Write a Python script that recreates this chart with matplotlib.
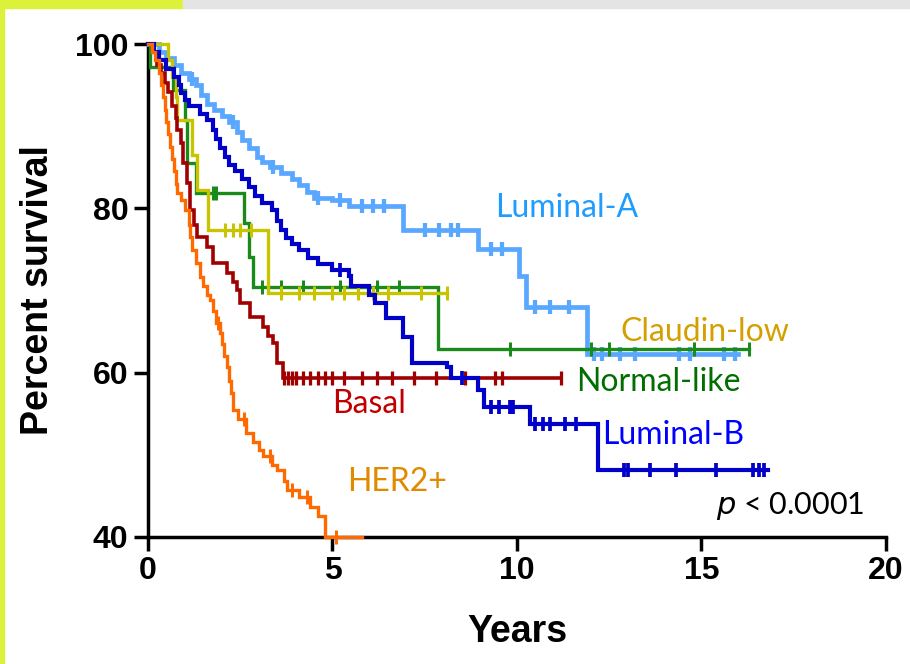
import numpy as np
import matplotlib
matplotlib.use("Agg")
import matplotlib.pyplot as plt
from matplotlib.patches import Rectangle

# Kaplan-Meier steps: (years, percent survival)
lum_a_t = [0, 0.3, 0.5, 0.7, 0.9, 1.1, 1.3, 1.45, 1.6, 1.8, 2.0, 2.2, 2.4, 2.55, 2.75,
           2.95, 3.1, 3.3, 3.6, 3.9, 4.1, 4.3, 4.5, 5.0, 5.45, 6.9, 8.95, 10.05, 10.25, 11.9, 16.0]
lum_a_s = [100, 99, 98.3, 97.5, 96.5, 95.8, 95.0, 93.8, 92.7, 92.0, 91.3, 90.5, 89.3, 88.3, 87.3,
           86.3, 85.6, 85.0, 84.3, 83.6, 82.8, 82.0, 81.3, 81.0, 80.3, 77.4, 75.0, 71.8, 68.0, 62.3, 62.3]
lum_a_c = [1.2, 2.3, 3.4, 4.6, 5.2, 5.8, 6.1, 6.4, 7.5, 7.9, 8.2, 8.4, 9.3, 9.6, 10.5, 10.9,
           11.4, 12.1, 12.3, 12.8, 13.2, 14.4, 14.7, 15.6, 15.9]

lum_b_t = [0, 0.15, 0.3, 0.5, 0.7, 0.85, 0.9, 1.0, 1.1, 1.4, 1.6, 1.75, 1.85, 1.95, 2.1, 2.2,
           2.35, 2.55, 2.75, 2.9, 3.1, 3.35, 3.5, 3.6, 3.75, 3.9, 4.1, 4.35, 4.6, 5.0, 5.45, 5.5,
           6.0, 6.15, 6.45, 6.9, 7.15, 8.1, 8.2, 8.95, 9.1, 10.35, 12.2, 16.8]
lum_b_s = [100, 99, 98, 97, 96, 95, 94, 93.2, 92.4, 91.5, 90.7, 89.5, 88.5, 87.3, 86.3, 85.3,
           84.5, 83.6, 82.6, 81.5, 80.7, 79.8, 78.5, 77.4, 76.4, 75.6, 74.9, 74.0, 73.2, 72.5, 71.8, 70.6,
           69.5, 68.5, 66.6, 64.4, 61.2, 60.7, 59.3, 57.9, 55.8, 53.7, 48.2, 48.2]
lum_b_c = [5.2, 8.5, 9.3, 9.5, 9.8, 9.9, 10.5, 10.7, 10.9, 11.3, 11.6, 12.9, 13.0, 13.6, 14.3,
           15.4, 16.4, 16.55, 16.7]

norm_t = [0, 0.05, 0.68, 1.0, 1.05, 1.3, 2.6, 2.75, 2.85, 7.85, 16.3]
norm_s = [100, 97.2, 94.4, 90.7, 85.5, 81.9, 78.2, 74.1, 70.4, 62.9, 62.9]
norm_c = [1.75, 1.85, 3.1, 3.6, 4.2, 5.2, 6.2, 6.8, 9.8, 12.0, 12.5, 14.8, 16.3]

claud_t = [0, 0.55, 0.65, 0.75, 0.8, 1.2, 1.32, 1.63, 3.25, 8.1]
claud_s = [100, 98, 96, 93.5, 90.7, 86.5, 82.2, 77.4, 69.7, 69.7]
claud_c = [2.1, 2.3, 2.5, 2.8, 3.6, 4.1, 4.5, 5.0, 5.3, 5.7, 6.1, 6.5, 7.4, 8.1]

basal_t = [0, 0.15, 0.25, 0.35, 0.45, 0.55, 0.65, 0.75, 0.8, 0.9, 0.95, 1.05, 1.14, 1.25,
           1.33, 1.6, 1.76, 2.14, 2.3, 2.41, 2.49, 2.76, 3.12, 3.25, 3.39, 3.5, 3.66, 11.2]
basal_s = [100, 99, 97.5, 96.5, 95.2, 94.2, 92.5, 91, 89.5, 88, 85.5, 83.1, 79.8, 78,
           76.5, 75.3, 73.4, 72.1, 71, 70.1, 68.5, 66.8, 65.6, 64.5, 63.6, 61.2, 59.4, 59.4]
basal_c = [3.7, 3.8, 3.9, 4.0, 4.2, 4.4, 4.6, 4.8, 5.0, 5.3, 5.8, 6.2, 6.6, 7.2, 7.8, 8.6,
           9.4, 9.6, 11.2]

her2_t = [0, 0.1, 0.2, 0.3, 0.35, 0.4, 0.45, 0.5, 0.55, 0.6, 0.65, 0.7, 0.75, 0.8, 0.9, 1.0,
          1.1, 1.15, 1.2, 1.3, 1.4, 1.5, 1.6, 1.68, 1.75, 1.85, 1.95, 2.0, 2.05, 2.14, 2.2, 2.25,
          2.3, 2.45, 2.65, 2.85, 3.0, 3.12, 3.35, 3.5, 3.7, 3.77, 4.1, 4.39, 4.6, 4.8, 5.8]
her2_s = [100, 99, 98, 96.5, 95, 93.5, 92, 90.5, 89, 87.5, 86, 84.5, 83, 81.9, 81, 79.8,
          78, 76.5, 74.9, 73.3, 71.7, 70.5, 69.5, 68.9, 67.5, 66, 64.8, 63.5, 62, 60.7, 59, 57.5,
          55.5, 54.3, 52.7, 51.5, 50.6, 49.8, 48.8, 48.2, 46.8, 45.7, 44.9, 43.7, 42.5, 40.0, 40.0]
her2_c = [1.9, 2.6, 3.3, 3.9, 4.3, 5.1]

curves = [
    (lum_a_t, lum_a_s, lum_a_c, "#5aa7ff", 3.4),
    (norm_t, norm_s, norm_c, "#1a8a1a", 2.4),
    (claud_t, claud_s, claud_c, "#c8c400", 2.4),
    (basal_t, basal_s, basal_c, "#a00000", 2.6),
    (lum_b_t, lum_b_s, lum_b_c, "#0000c8", 3.0),
    (her2_t, her2_s, her2_c, "#ff6a00", 2.4),
]

labels = ["Luminal-A", "Claudin-low", "Normal-like", "Basal", "Luminal-B", "HER2+"]
label_colors = ["#1e9dff", "#d4a000", "#006e00", "#c00000", "#0000ff", "#e08a00"]
label_xy = [(9.4, 80.1), (12.8, 65.0), (11.6, 58.9), (5.0, 56.2), (12.3, 52.4), (5.4, 46.7)]

fig = plt.figure(figsize=(9.1, 6.64), dpi=100)

# slide border bits
fig.patches.append(Rectangle((0, 0), 0.004, 1, transform=fig.transFigure, color="#dcf23a", zorder=0))
fig.patches.append(Rectangle((0, 0.988), 0.201, 0.012, transform=fig.transFigure, color="#dcf23a", zorder=0))
fig.patches.append(Rectangle((0.201, 0.988), 0.799, 0.012, transform=fig.transFigure, color="#e4e4e4", zorder=0))

ax = fig.add_axes([0.1626, 0.1913, 0.811, 0.7424])

for t, s, c, col, lw in curves:
    ax.step(t, s, where="post", color=col, lw=lw, solid_joinstyle="miter", clip_on=False, zorder=3)
    idx = np.searchsorted(t, c, side="right") - 1
    cy = np.array(s)[np.clip(idx, 0, len(s) - 1)]
    ax.plot(c, cy, ls="none", marker="|", ms=10, mew=lw * 0.9, color=col, clip_on=False, zorder=3)

for lab, col, (x, y) in zip(labels, label_colors, label_xy):
    ax.text(x, y, lab, color=col, fontsize=23, family="Lato", va="center", ha="left")

ax.text(15.4, 43.8, "$\\mathit{p}$ < 0.0001", fontsize=22, family="Lato", color="black",
        va="center", ha="left")

ax.set_xlim(0, 20)
ax.set_ylim(40, 100)
ax.set_xticks([0, 5, 10, 15, 20])
ax.set_yticks([40, 60, 80, 100])
for sp in ["top", "right"]:
    ax.spines[sp].set_visible(False)
for sp in ["left", "bottom"]:
    ax.spines[sp].set_linewidth(2.5)
ax.tick_params(width=2.5, length=10, direction="out", labelsize=23, pad=4)
for lbl in ax.get_xticklabels() + ax.get_yticklabels():
    lbl.set_fontweight("bold")
    lbl.set_family("Liberation Sans")

ax.set_xlabel("Years", fontsize=27, fontweight="bold", family="Liberation Sans", labelpad=20)
ax.set_ylabel("Percent survival", fontsize=27, fontweight="bold", family="Liberation Sans", labelpad=14)

fig.savefig("out.png", dpi=100)
